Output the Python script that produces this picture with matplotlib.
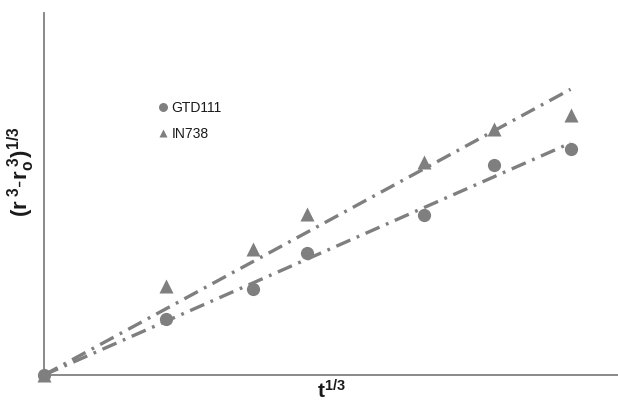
import numpy as np
import matplotlib
matplotlib.use("Agg")
import matplotlib.pyplot as plt

plt.rcParams['font.family'] = ['Liberation Sans', 'DejaVu Sans']
plt.rcParams['mathtext.fontset'] = 'custom'
plt.rcParams['mathtext.rm'] = 'Liberation Sans'
plt.rcParams['mathtext.it'] = 'Liberation Sans'
plt.rcParams['mathtext.bf'] = 'Liberation Sans:bold'
plt.rcParams['lines.scale_dashes'] = False

# t^(1/3) for t = 0, 50, 250, 500, 1500, 2500, 4000
t_cuberoot = [0.0, 3.684, 6.300, 7.937, 11.447, 13.572, 15.874]
gtd111 = [0.0, 0.557, 0.86, 1.223, 1.60, 2.10, 2.26]
in738 = [0.0, 0.89, 1.257, 1.61, 2.133, 2.457, 2.60]
labels = ["GTD111", "IN738"]

gray = '#7f7f7f'

fig = plt.figure(figsize=(6.18, 4.03), dpi=100)
ax = fig.add_axes([44/618, 28/403, 1 - 44/618, (375-13)/403])

x = np.array(t_cuberoot)
for y, mk in [(gtd111, 'o'), (in738, '^')]:
    y = np.array(y)
    slope = np.sum(x*y)/np.sum(x*x)
    xl = np.array([0, x.max()])
    ax.plot(xl, slope*xl, color=gray, lw=2.4, linestyle=(0, (11, 5, 2, 5)),
            solid_capstyle='butt', dash_capstyle='butt', zorder=2)

ax.plot(x, gtd111, 'o', color=gray, ms=9.5, mec='none', label=labels[0], clip_on=False, zorder=3)
ax.plot(x, in738, '^', color=gray, ms=9.5, mec='none', label=labels[1], clip_on=False, zorder=3)

ax.set_xlim(0, (618-44)/33.17)
ax.set_ylim(0, 3.62)
ax.set_xticks([])
ax.set_yticks([])
for s in ['top', 'right']:
    ax.spines[s].set_visible(False)
for s in ['left', 'bottom']:
    ax.spines[s].set_color('#808080')
    ax.spines[s].set_linewidth(1.3)

leg = ax.legend(frameon=False, fontsize=10, handlelength=0.6, handletextpad=0.3,
                labelspacing=0.9, loc='upper left', bbox_to_anchor=(0.2, 0.758),
                borderaxespad=0, borderpad=0, labelcolor='#1a1a1a', markerscale=0.68)

fig.text(331/618, 1 - 391/403, r'$\mathbf{t^{1/3}}$', ha='center', va='center', fontsize=15, color='#1a1a1a')
fig.text(21/618, 1 - 172/403, r'$\mathbf{(r^{\ 3}\text{-}r_{o}^{\ 3})^{1/3}}$', ha='center', va='center',
         rotation=90, fontsize=16, color='#1a1a1a')

fig.savefig('out.png', dpi=100)
